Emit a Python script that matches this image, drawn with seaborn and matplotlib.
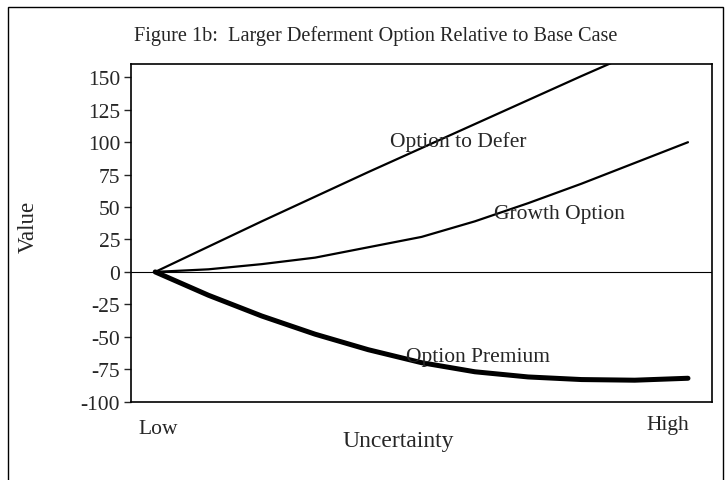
import numpy as np
import pandas as pd
import matplotlib
matplotlib.use("Agg")
import matplotlib.pyplot as plt
from matplotlib.patches import Rectangle
import seaborn as sns

# values
uncertainty = [0, 1, 2, 3, 4, 5, 6, 7, 8, 9, 10]
option_to_defer = [0, 19.5, 39, 58, 77, 95.5, 114, 132.5, 151, 169, 187]
growth_option = [0, 2, 6, 11, 19, 27, 39, 53, 68, 84, 100]
option_premium = [0, -18, -34, -48, -60, -70, -77, -81, -83, -83.5, -82]
y_ticks = [-100, -75, -50, -25, 0, 25, 50, 75, 100, 125, 150]

sns.set_style("white")
plt.rcParams["font.family"] = ["Liberation Serif", "DejaVu Serif"]

fig = plt.figure(figsize=(7.25, 4.81), dpi=100)
ax = fig.add_axes([0.181, 0.163, 0.801, 0.701])

sns.lineplot(x=uncertainty, y=option_to_defer, ax=ax, color="black", lw=1.6)
sns.lineplot(x=uncertainty, y=growth_option, ax=ax, color="black", lw=1.6)
sns.lineplot(x=uncertainty, y=option_premium, ax=ax, color="black", lw=3.6)
ax.axhline(0, color="black", lw=0.8, zorder=1)

ax.set_xlim(-0.45, 10.45)
ax.set_ylim(-100, 160)
ax.set_yticks(y_ticks)
ax.set_yticklabels([str(t) for t in y_ticks], fontsize=15.5)
ax.set_xticks([])
ax.tick_params(axis="y", direction="out", length=5, width=1, left=True, pad=3)
for s in ax.spines.values():
    s.set_color("black")
    s.set_linewidth(1.2)

ax.text(4.4, 101, "Option to Defer", fontsize=15.5, va="center")
ax.text(6.35, 45, "Growth Option", fontsize=15.5, va="center")
ax.text(4.7, -65, "Option Premium", fontsize=15.5, va="center")

ax.set_ylabel("Value", fontsize=16.5)
ax.yaxis.set_label_coords(-0.16, 0.52)

fig.text(0.518, 0.925, "Figure 1b:  Larger Deferment Option Relative to Base Case",
         ha="center", va="center", fontsize=14.6)
fig.text(0.218, 0.108, "Low", ha="center", va="center", fontsize=15.5)
fig.text(0.921, 0.116, "High", ha="center", va="center", fontsize=15.5)
fig.text(0.549, 0.083, "Uncertainty", ha="center", va="center", fontsize=17)

fig.patches.append(Rectangle((0.011, -0.01), 0.986, 0.994, transform=fig.transFigure,
                             fill=False, edgecolor="black", lw=1.0))

fig.savefig("out.png", dpi=100)
